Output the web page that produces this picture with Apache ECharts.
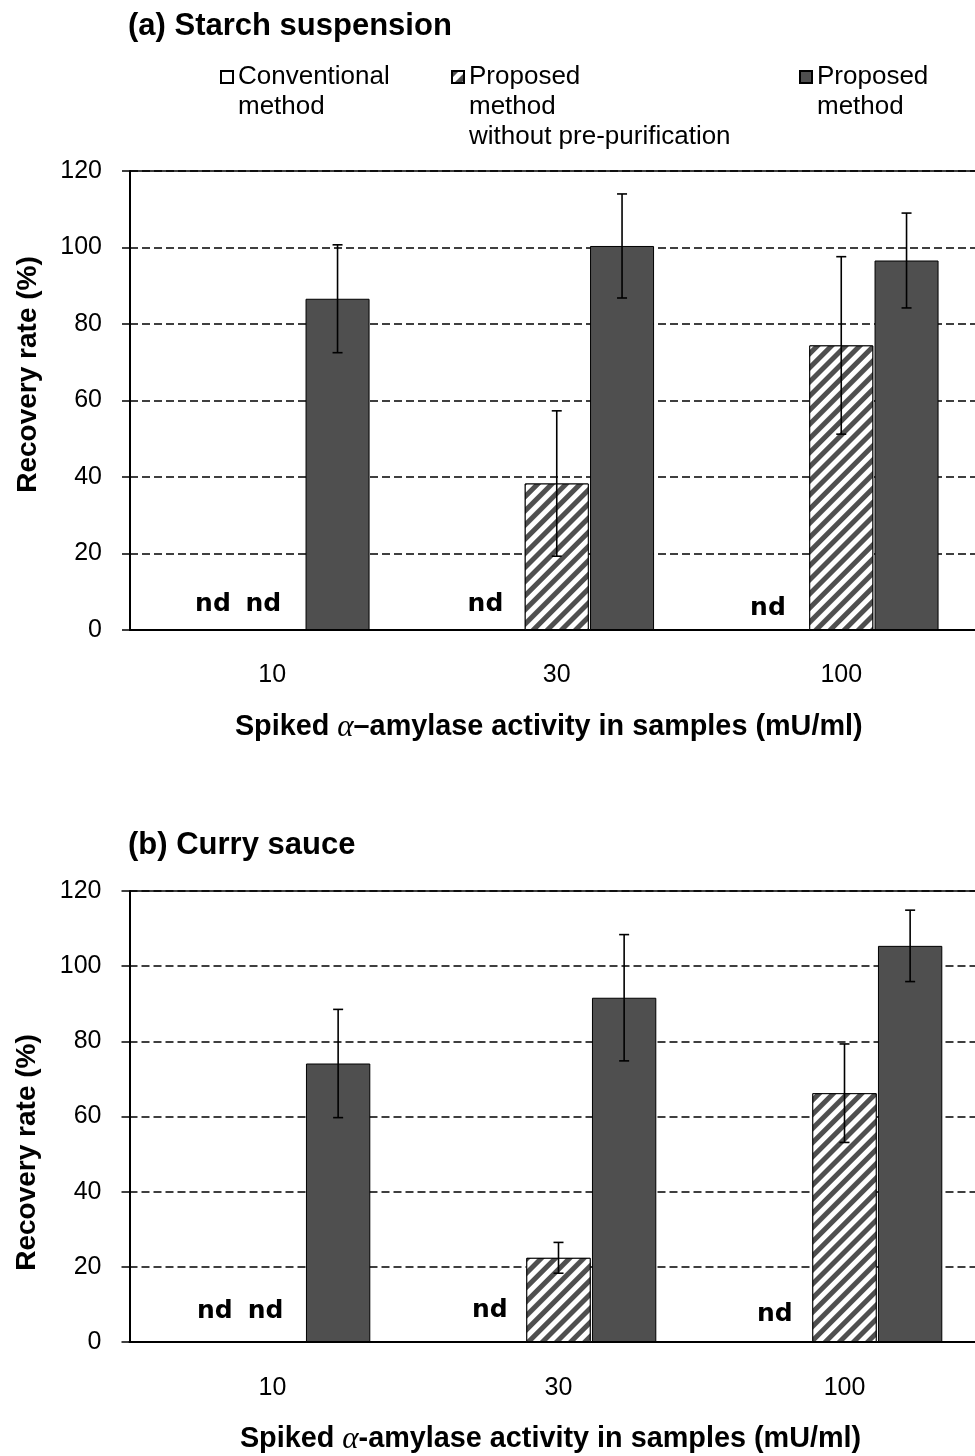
<!DOCTYPE html>
<html>
<head>
<meta charset="utf-8">
<script src="https://cdn.jsdelivr.net/npm/echarts@6/dist/echarts.min.js"></script>
<style>html,body{margin:0;padding:0;background:#fff;overflow:hidden;width:975px;height:1456px}#c{width:1000px;height:1456px}</style>
</head>
<body>
<div id="c"></div>
<script>
const categories = ['10', '30', '100'];
const seriesNames = ['Conventional method', 'Proposed method without pre-purification', 'Proposed method'];
const legendLabels = ['\nConventional\nmethod', '\n\nProposed\nmethod\nwithout pre-purification', '\nProposed\nmethod'];
const yTicks = [0, 20, 40, 60, 80, 100, 120];

// (a) Starch suspension
const starchConv = [0, 0, 0];
const starchNoPur = [0, 38.3, 74.4];
const starchProp = [86.6, 100.4, 96.6];
const starchNoPurErr = [0, 19.0, 23.2];
const starchPropErr = [14.1, 13.6, 12.4];
const starchConvND = [true, true, true];
const starchNoPurND = [true, false, false];

// (b) Curry sauce
const curryConv = [0, 0, 0];
const curryNoPur = [0, 22.4, 66.2];
const curryProp = [74.1, 91.6, 105.4];
const curryNoPurErr = [0, 4.1, 13.1];
const curryPropErr = [14.4, 16.8, 9.5];
const curryConvND = [true, true, true];
const curryNoPurND = [true, false, false];

// label placement (style, not data)
const ndOffsetConv = [[[6, -26], [-6, -26], [-8, -22]], [[8, -31], [-3, -32], [-4, -28]]];
const ndOffsetNoPur = [[[-9, -26], null, null], [[-7, -31], null, null]];
const yNamePadding = [[0, 0, 0, 52], [0, 72, 0, 0]];

const FONT = 'Liberation Sans';
const BAR_W = 0.225, BAR_GAP = 0.02;

function ndData(vals, flags, offsets) {
  return vals.map((v, i) => {
    if (!flags[i]) return v;
    return {
      value: v,
      label: {
        show: true, formatter: 'nd', position: 'inside', offset: offsets[i],
        fontFamily: 'DejaVu Sans', fontWeight: 'bold', fontSize: 25, color: '#000'
      }
    };
  });
}

function errData(noPur, noPurErr, prop, propErr) {
  const out = [];
  categories.forEach((c, i) => {
    if (noPurErr[i] > 0) out.push([i, noPur[i], noPurErr[i], 0]);
    if (propErr[i] > 0) out.push([i, prop[i], propErr[i], 1]);
  });
  return out;
}

function renderErr(params, api) {
  const ci = api.value(0), v = api.value(1), e = api.value(2), k = api.value(3);
  const band = api.size([1, 0])[0];
  const bw = band * BAR_W;
  const x = api.coord([ci, v])[0] + k * bw * (1 + BAR_GAP);
  const yt = api.coord([ci, v + e])[1];
  const yb = api.coord([ci, v - e])[1];
  const cap = 5;
  const st = { stroke: '#000', lineWidth: 1.6 };
  return {
    type: 'group',
    children: [
      { type: 'line', shape: { x1: x, y1: yt, x2: x, y2: yb }, style: st },
      { type: 'line', shape: { x1: x - cap, y1: yt, x2: x + cap, y2: yt }, style: st },
      { type: 'line', shape: { x1: x - cap, y1: yb, x2: x + cap, y2: yb }, style: st }
    ]
  };
}

const hatchDecal = {
  symbol: 'rect', symbolSize: 1,
  dashArrayX: [1, 0], dashArrayY: [4.5, 5],
  rotation: -Math.PI / 4,
  color: '#4f4f4f', backgroundColor: '#fff'
};

function buildSeries(g, conv, convND, noPur, noPurND, prop, noPurErr, propErr) {
  const common = {
    type: 'bar', xAxisIndex: g, yAxisIndex: g,
    barWidth: (BAR_W * 100) + '%', barGap: (BAR_GAP * 100) + '%',
    emphasis: { disabled: true }
  };
  return [
    Object.assign({}, common, {
      name: seriesNames[0],
      itemStyle: { color: '#fff', borderColor: '#000', borderWidth: 1 },
      data: ndData(conv, convND, ndOffsetConv[g])
    }),
    Object.assign({}, common, {
      name: seriesNames[1],
      itemStyle: { color: '#fff', borderColor: '#000', borderWidth: 1, decal: hatchDecal },
      data: ndData(noPur, noPurND, ndOffsetNoPur[g])
    }),
    Object.assign({}, common, {
      name: seriesNames[2],
      itemStyle: { color: '#4f4f4f', borderColor: '#000', borderWidth: 1 },
      data: prop,
      markLine: {
        silent: true, symbol: 'none', label: { show: false },
        lineStyle: { color: '#000', type: 'solid', width: 1.5 },
        data: [{ yAxis: yTicks[yTicks.length - 1] }]
      }
    }),
    {
      type: 'custom', xAxisIndex: g, yAxisIndex: g, z: 5,
      renderItem: renderErr,
      data: errData(noPur, noPurErr, prop, propErr),
      silent: true
    }
  ];
}

function xAxisCfg(g, nameText, gap, labelMargin) {
  return {
    type: 'category', gridIndex: g, data: categories,
    axisLine: { lineStyle: { color: '#000', width: 2 } },
    axisTick: { show: false },
    axisLabel: { color: '#000', fontSize: 25, fontFamily: FONT, margin: labelMargin },
    name: nameText, nameLocation: 'middle', nameGap: gap,
    nameTextStyle: {
      color: '#000', fontSize: 28.8, fontWeight: 'bold', fontFamily: FONT,
      padding: [0, 16, 0, 0],
      rich: { a: { fontStyle: 'italic', fontFamily: 'Liberation Serif', fontSize: 31, fontWeight: 'normal', color: '#000' } }
    }
  };
}

function yAxisCfg(g) {
  return {
    type: 'value', gridIndex: g, min: yTicks[0], max: yTicks[yTicks.length - 1], interval: yTicks[1] - yTicks[0],
    axisLine: { show: true, lineStyle: { color: '#000', width: 2 } },
    axisTick: { show: true, length: 8, lineStyle: { color: '#000', width: 1.5 } },
    axisLabel: { color: '#000', fontSize: 25, fontFamily: FONT, margin: 28 },
    splitLine: { show: true, lineStyle: { color: '#000', type: [8, 4], width: 1.5 } },
    name: 'Recovery rate (%)', nameLocation: 'middle', nameGap: 88, nameRotate: 90,
    nameTextStyle: { color: '#000', fontSize: 28, fontWeight: 'bold', fontFamily: FONT, padding: yNamePadding[g] }
  };
}

function legendCfg(idx, left, top) {
  return {
    data: [seriesNames[idx]], left: left, top: top, padding: 0,
    itemWidth: 12, itemHeight: 12, icon: 'rect', selectedMode: false,
    formatter: () => legendLabels[idx],
    textStyle: { color: '#000', fontSize: 26, lineHeight: 30, fontFamily: FONT }
  };
}

const chart = echarts.init(document.getElementById('c'), null, { renderer: 'canvas' });
chart.setOption({
  animation: false,
  backgroundColor: '#fff',
  title: [
    { text: '(a) Starch suspension', left: 123, top: 6, textStyle: { color: '#000', fontSize: 31, fontWeight: 'bold', fontFamily: FONT } },
    { text: '(b) Curry sauce', left: 123, top: 825, textStyle: { color: '#000', fontSize: 31, fontWeight: 'bold', fontFamily: FONT } }
  ],
  legend: [
    legendCfg(0, 220, 32),
    legendCfg(1, 451, 2),
    legendCfg(2, 799, 32)
  ],
  grid: [
    { left: 130, top: 171, width: 853.5, height: 459 },
    { left: 129.5, top: 891, width: 858, height: 455 }
  ],
  xAxis: [
    xAxisCfg(0, 'Spiked {a|α}–amylase activity in samples (mU/ml)', 82, 33),
    xAxisCfg(1, 'Spiked {a|α}-amylase activity in samples (mU/ml)', 82, 34)
  ],
  yAxis: [yAxisCfg(0), yAxisCfg(1)],
  series: [].concat(
    buildSeries(0, starchConv, starchConvND, starchNoPur, starchNoPurND, starchProp, starchNoPurErr, starchPropErr),
    buildSeries(1, curryConv, curryConvND, curryNoPur, curryNoPurND, curryProp, curryNoPurErr, curryPropErr)
  )
});
</script>
</body>
</html>
